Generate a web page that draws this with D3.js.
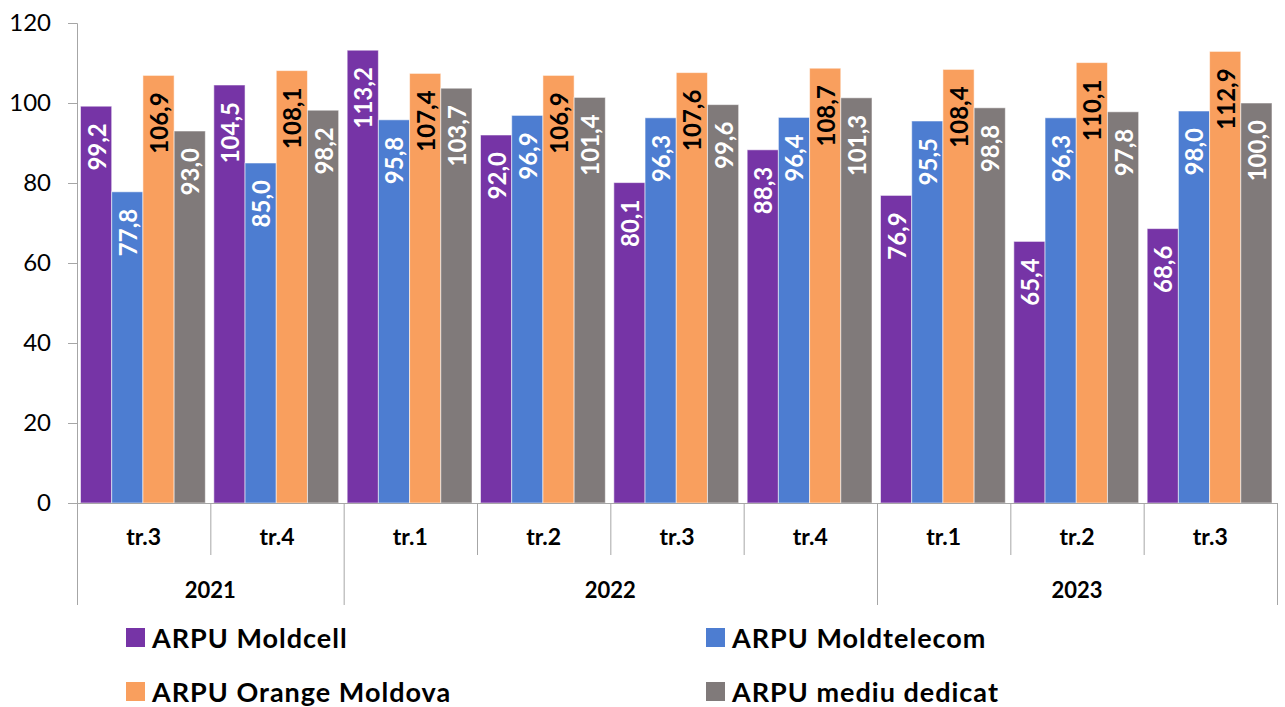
<!DOCTYPE html>
<html><head><meta charset="utf-8">
<script src="https://cdn.jsdelivr.net/npm/d3@7"></script>
<style>body{margin:0;background:#fff}svg{display:block;font-family:Lato,"Open Sans",sans-serif}</style>
</head><body><svg id="c" width="1285" height="707"></svg>
<script>
const quarters = ["tr.3","tr.4","tr.1","tr.2","tr.3","tr.4","tr.1","tr.2","tr.3"];
const years = [{label:"2021", from:0, to:2},{label:"2022", from:2, to:6},{label:"2023", from:6, to:9}];
const seriesNames = ["ARPU Moldcell","ARPU Moldtelecom","ARPU Orange Moldova","ARPU mediu dedicat"];
const moldcell    = [99.2,104.5,113.2,92.0,80.1,88.3,76.9,65.4,68.6];
const moldtelecom = [77.8,85.0,95.8,96.9,96.3,96.4,95.5,96.3,98.0];
const orange      = [106.9,108.1,107.4,106.9,107.6,108.7,108.4,110.1,112.9];
const mediu       = [93.0,98.2,103.7,101.4,99.6,101.3,98.8,97.8,100.0];
const yTicks = [0,20,40,60,80,100,120];

const colors = ["#7634a6","#4d7dd1","#f99f5e","#807a7a"];
const labelColors = ["#fff","#fff","#000","#fff"];
const values = [moldcell, moldtelecom, orange, mediu];

const svg = d3.select("#c");
const L = 77, R = 1277, T = 23, B = 503;
const x0 = d3.scaleBand().domain(d3.range(quarters.length)).range([L,R]).paddingInner(0).paddingOuter(0);
const x1 = d3.scaleBand().domain(d3.range(4)).range([3.5, x0.bandwidth()-5]);
const y = d3.scaleLinear().domain([0,120]).range([B,T]);

// y axis
const yAxis = d3.axisLeft(y).tickValues(yTicks).tickSize(9).tickPadding(17);
const ga = svg.append("g").attr("transform",`translate(${L},0)`).call(yAxis);
ga.select(".domain").attr("stroke","#a6a6a6");
ga.selectAll(".tick line").attr("stroke","#a6a6a6");
ga.selectAll(".tick text").attr("font-size",24).attr("fill","#000").attr("font-family","Lato");

// bars
values.forEach((arr,si)=>{
  const g = svg.append("g");
  g.selectAll("rect").data(arr).join("rect")
    .attr("x",(d,i)=>x0(i)+x1(si))
    .attr("y",d=>y(d))
    .attr("width",x1.bandwidth())
    .attr("height",d=>B-y(d))
    .attr("fill",colors[si])
    .attr("stroke","rgba(255,255,255,0.55)").attr("stroke-width",1);
  g.selectAll("text").data(arr).join("text")
    .attr("transform",(d,i)=>`translate(${x0(i)+x1(si)+x1.bandwidth()/2},${y(d)+17}) rotate(-90)`)
    .attr("text-anchor","end")
    .attr("dominant-baseline","central")
    .attr("font-size",24).attr("font-weight","bold")
    .attr("fill",labelColors[si])
    .text(d=>d3.format(".1f")(d).replace(".",","));
});

// x axis lines
const axisColor = "#a6a6a6";
svg.append("line").attr("x1",L).attr("x2",R).attr("y1",B+0.5).attr("y2",B+0.5).attr("stroke",axisColor);
d3.range(1,quarters.length).forEach(i=>{
  const isYear = years.some(yv=>yv.from===i);
  svg.append("line").attr("x1",x0(i)+0.5).attr("x2",x0(i)+0.5).attr("y1",B).attr("y2",isYear?605:555).attr("stroke",axisColor);
});
[L,R].forEach(xx=>svg.append("line").attr("x1",xx+0.5).attr("x2",xx+0.5).attr("y1",B).attr("y2",605).attr("stroke",axisColor));

svg.append("g").selectAll("text").data(quarters).join("text")
  .attr("x",(d,i)=>x0(i)+x0.bandwidth()/2).attr("y",545)
  .attr("text-anchor","middle").attr("font-size",23).attr("font-weight","bold").text(d=>d);
svg.append("g").selectAll("text").data(years).join("text")
  .attr("x",d=>(x0(d.from)+ (d.to<quarters.length?x0(d.to):R))/2).attr("y",598)
  .attr("text-anchor","middle").attr("font-size",22).attr("font-weight","bold").text(d=>d.label);

// legend
const legPos = [[126,628],[706,628],[126,682],[706,682]];
seriesNames.forEach((n,i)=>{
  const [lx,ly] = legPos[i];
  svg.append("rect").attr("x",lx).attr("y",ly).attr("width",19).attr("height",19).attr("fill",colors[i]);
  svg.append("text").attr("x",lx+26).attr("y",ly+20).attr("font-size",27).attr("font-weight","bold")
    .attr("letter-spacing",1).text(n);
});
</script></body></html>
